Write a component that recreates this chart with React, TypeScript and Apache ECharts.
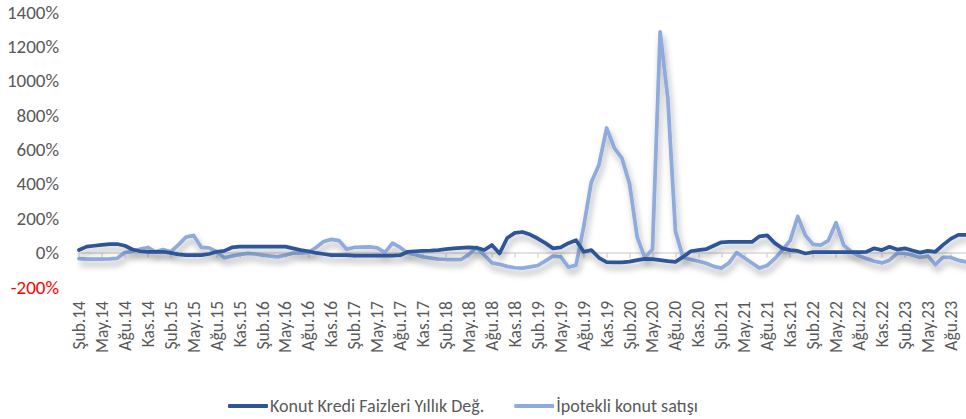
import React, { useEffect, useRef } from "react";
import * as echarts from "echarts";

const categories: string[] = [
  "Şub.14", "Mar.14", "Nis.14", "May.14", "Haz.14", "Tem.14", "Ağu.14", "Eyl.14", "Eki.14", "Kas.14", "Ara.14",
  "Oca.15", "Şub.15", "Mar.15", "Nis.15", "May.15", "Haz.15", "Tem.15", "Ağu.15", "Eyl.15", "Eki.15", "Kas.15", "Ara.15",
  "Oca.16", "Şub.16", "Mar.16", "Nis.16", "May.16", "Haz.16", "Tem.16", "Ağu.16", "Eyl.16", "Eki.16", "Kas.16", "Ara.16",
  "Oca.17", "Şub.17", "Mar.17", "Nis.17", "May.17", "Haz.17", "Tem.17", "Ağu.17", "Eyl.17", "Eki.17", "Kas.17", "Ara.17",
  "Oca.18", "Şub.18", "Mar.18", "Nis.18", "May.18", "Haz.18", "Tem.18", "Ağu.18", "Eyl.18", "Eki.18", "Kas.18", "Ara.18",
  "Oca.19", "Şub.19", "Mar.19", "Nis.19", "May.19", "Haz.19", "Tem.19", "Ağu.19", "Eyl.19", "Eki.19", "Kas.19", "Ara.19",
  "Oca.20", "Şub.20", "Mar.20", "Nis.20", "May.20", "Haz.20", "Tem.20", "Ağu.20", "Eyl.20", "Eki.20", "Kas.20", "Ara.20",
  "Oca.21", "Şub.21", "Mar.21", "Nis.21", "May.21", "Haz.21", "Tem.21", "Ağu.21", "Eyl.21", "Eki.21", "Kas.21", "Ara.21",
  "Oca.22", "Şub.22", "Mar.22", "Nis.22", "May.22", "Haz.22", "Tem.22", "Ağu.22", "Eyl.22", "Eki.22", "Kas.22", "Ara.22",
  "Oca.23", "Şub.23", "Mar.23", "Nis.23", "May.23", "Haz.23", "Tem.23", "Ağu.23", "Eyl.23", "Eki.23",
];

// Konut Kredi Faizleri Yıllık Değ. (%)
const konutKrediFaiz: number[] = [
  15, 35, 40, 45, 50, 50, 40, 18, 8, 5, 5,
  5, -2, -10, -15, -15, -15, -8, 5, 10, 30, 35, 35,
  35, 35, 35, 35, 35, 25, 15, 8, -2, -8, -15, -15,
  -15, -17, -17, -17, -17, -17, -17, -15, 5, 8, 10, 12,
  15, 20, 25, 28, 30, 28, 15, 44, -5, 85, 115, 120,
  105, 82, 55, 25, 30, 55, 72, 5, 15, -30, -55, -57,
  -57, -52, -44, -36, -38, -44, -50, -54, -25, 8, 15, 20,
  40, 60, 62, 62, 62, 62, 95, 100, 55, 25, 15, 10,
  -5, 3, 3, 3, 3, 3, 3, 3, 5, 25, 15, 34,
  18, 25, 12, 0, 10, 5, 45, 80, 103, 103,
];

// İpotekli konut satışı (%)
const ipotekliSatis: number[] = [
  -35, -38, -38, -38, -37, -33, 0, 8, 20, 30, 5,
  18, 5, 45, 90, 100, 30, 28, 5, -30, -20, -12, -5,
  -8, -15, -20, -25, -15, -3, -2, 0, 30, 65, 77, 70,
  20, 30, 32, 33, 28, 0, 55, 30, -3, -12, -25, -32,
  -38, -40, -40, -40, -10, 30, -15, -60, -68, -80, -88, -90,
  -83, -75, -48, -20, -25, -85, -73, 150, 410, 510, 725, 610,
  550, 400, 90, -30, 20, 1285, 900, 125, -28, -40, -50, -62,
  -80, -90, -60, 0, -30, -60, -90, -75, -35, 15, 70, 210,
  100, 48, 44, 70, 174, 44, 5, -18, -35, -50, -60, -44,
  -5, -5, -15, -28, -20, -70, -28, -28, -45, -54,
];

const seriesNames = ["Konut Kredi Faizleri Yıllık Değ.", "İpotekli konut satışı"];
const yMin = -200;
const yMax = 1400;
const yStep = 200;

const FONT = "Carlito, Calibri, 'Liberation Sans', sans-serif";
const TEXT = "#595959";

export default function App() {
  const ref = useRef<HTMLDivElement>(null);
  useEffect(() => {
    if (!ref.current) return;
    const chart = echarts.init(ref.current, null, { renderer: "svg" });
    const shadow = {
      shadowColor: "rgba(0,0,0,0.30)",
      shadowBlur: 6,
      shadowOffsetX: 2,
      shadowOffsetY: 5,
    };
    chart.setOption({
      animation: false,
      backgroundColor: "#ffffff",
      textStyle: { fontFamily: FONT },
      grid: { left: 79, right: 0, top: 12, bottom: 132, containLabel: false },
      legend: {
        left: 223,
        top: 392,
        itemWidth: 40,
        itemHeight: 4,
        itemGap: 30,
        icon: "roundRect",
        textStyle: { fontFamily: FONT, fontSize: 18, color: TEXT, padding: [0, 0, 0, -3] },
        data: seriesNames,
      },
      xAxis: [
        {
          type: "category",
          data: categories,
          boundaryGap: false,
          position: "bottom",
          axisLine: { show: true, onZero: true, lineStyle: { color: "#D9D9D9", width: 1.5 } },
          axisTick: { show: true, interval: 2, length: 5, lineStyle: { color: "#D9D9D9", width: 1.5 } },
          axisLabel: { show: false },
          splitLine: { show: false },
        },
        {
          type: "category",
          data: categories,
          boundaryGap: false,
          position: "bottom",
          axisLine: { show: false, onZero: false },
          axisTick: { show: false },
          axisLabel: {
            show: true,
            interval: 2,
            rotate: 90,
            margin: 14,
            fontSize: 17.5,
            fontFamily: FONT,
            color: TEXT,
          },
          splitLine: { show: false },
        },
      ],
      yAxis: {
        type: "value",
        min: yMin,
        max: yMax,
        interval: yStep,
        axisLine: { show: false },
        axisTick: { show: false },
        splitLine: { show: false },
        axisLabel: {
          margin: 20,
          fontSize: 19,
          fontFamily: FONT,
          color: (v: any) => (Number(v) < 0 ? "#FF0000" : TEXT),
          formatter: (v: number) => `${v}%`,
        },
      },
      series: [
        {
          name: seriesNames[0],
          type: "line",
          xAxisIndex: 0,
          data: konutKrediFaiz,
          symbol: "none",
          smooth: false,
          z: 3,
          color: "#2F5597",
          lineStyle: { color: "#2F5597", width: 3.75, cap: "round", join: "round", ...shadow },
        },
        {
          name: seriesNames[1],
          type: "line",
          xAxisIndex: 0,
          data: ipotekliSatis,
          symbol: "none",
          smooth: false,
          z: 2,
          color: "#8FAADC",
          lineStyle: { color: "#8FAADC", width: 3.75, cap: "round", join: "round", ...shadow },
        },
      ],
    });
    return () => chart.dispose();
  }, []);
  return <div ref={ref} style={{ width: 966, height: 419, position: "absolute", left: 0, top: 0 }} />;
}
